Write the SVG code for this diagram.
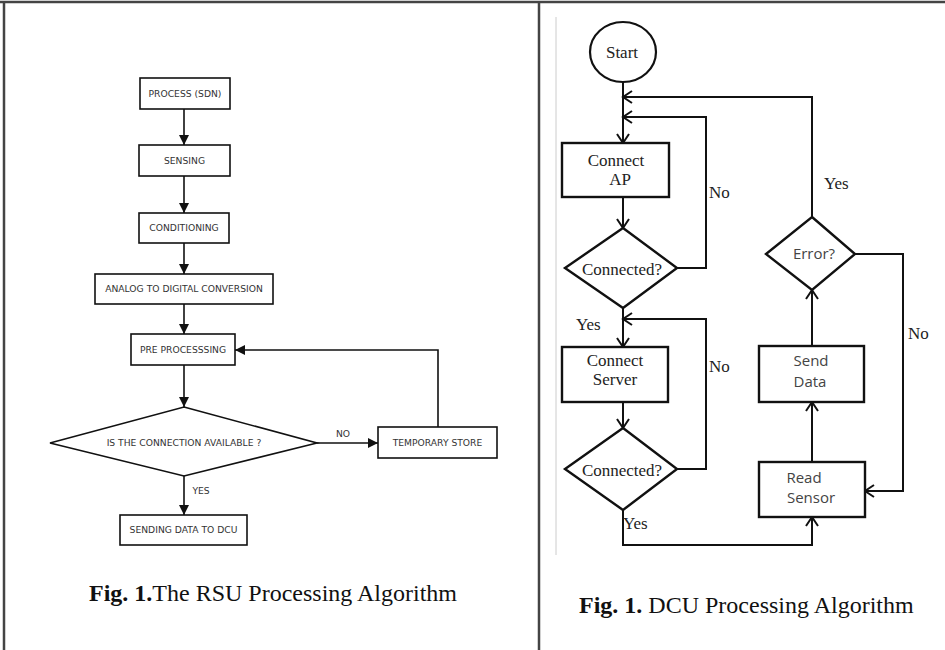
<svg xmlns="http://www.w3.org/2000/svg" width="945" height="650" viewBox="0 0 945 650">
<style>
.frame{stroke:#444;stroke-width:2.5;fill:none}
.lbox{fill:#fff;stroke:#111;stroke-width:1.6}
.ltxt{font-family:"DejaVu Sans",Verdana,sans-serif;font-size:9.2px;fill:#333;text-anchor:middle}
.lline{stroke:#111;stroke-width:1.6;fill:none}
.rbox{fill:#fff;stroke:#111;stroke-width:2.4}
.rline{stroke:#111;stroke-width:2;fill:none}
.serif{font-family:"Liberation Serif","Times New Roman",serif;font-size:17px;fill:#222}
.sans{font-family:"Open Sans","DejaVu Sans",sans-serif;font-size:15px;fill:#444}
.mid{text-anchor:middle}
.cap{font-family:"Liberation Serif","Times New Roman",serif;font-size:24px;fill:#111}
</style>
<defs>
<marker id="fa" markerUnits="userSpaceOnUse" markerWidth="10" markerHeight="10" viewBox="0 0 10 10" refX="10" refY="5" orient="auto">
<path d="M0,0 L10,5 L0,10 z" fill="#111"/>
</marker>
<marker id="oa" markerUnits="userSpaceOnUse" markerWidth="12" markerHeight="14" viewBox="0 0 12 14" refX="10" refY="7" orient="auto">
<path d="M1,1 L10,7 L1,13" fill="none" stroke="#111" stroke-width="2"/>
</marker>
</defs>
<rect width="945" height="650" fill="#fff"/>
<g id="frame">
<line class="frame" x1="0" y1="2" x2="945" y2="2"/>
<line class="frame" x1="4" y1="2" x2="4" y2="650"/>
<line class="frame" x1="539" y1="2" x2="539" y2="650"/>
<line x1="556" y1="17" x2="556" y2="555" stroke="#ccc" stroke-width="1"/>
</g>
<g id="connectors">
<path class="lline" d="M184,109 V145" marker-end="url(#fa)"/>
<path class="lline" d="M184,176 V213" marker-end="url(#fa)"/>
<path class="lline" d="M184,243 V274" marker-end="url(#fa)"/>
<path class="lline" d="M184,304 V334" marker-end="url(#fa)"/>
<path class="lline" d="M184,365 V407" marker-end="url(#fa)"/>
<path class="lline" d="M317,443 H378" marker-end="url(#fa)"/>
<path class="lline" d="M438,427 V350 H235" marker-end="url(#fa)"/>
<path class="lline" d="M184,476 V515" marker-end="url(#fa)"/>
<path class="rline" d="M623,82 V143" marker-end="url(#oa)"/>
<path class="rline" d="M623,197 V228" marker-end="url(#oa)"/>
<path class="rline" d="M677,268 H706 V117 H623" marker-end="url(#oa)"/>
<path class="rline" d="M812,217 V97 H623" marker-end="url(#oa)"/>
<path class="rline" d="M623,308 V347" marker-end="url(#oa)"/>
<path class="rline" d="M677,469 H706 V319 H623" marker-end="url(#oa)"/>
<path class="rline" d="M623,402 V428" marker-end="url(#oa)"/>
<path class="rline" d="M623,510 V545 H812 V517" marker-end="url(#oa)"/>
<path class="rline" d="M812,462 V402" marker-end="url(#oa)"/>
<path class="rline" d="M812,346 V290" marker-end="url(#oa)"/>
<path class="rline" d="M855,254 H903 V491 H865" marker-end="url(#oa)"/>
</g>
<g id="process">
<rect class="lbox" x="140" y="78" width="90" height="31"/>
<text class="ltxt" x="185" y="97">PROCESS (SDN)</text>
</g>
<g id="sensing">
<rect class="lbox" x="139" y="145" width="91" height="31"/>
<text class="ltxt" x="184.5" y="164">SENSING</text>
</g>
<g id="conditioning">
<rect class="lbox" x="139" y="213" width="90" height="30"/>
<text class="ltxt" x="184" y="231">CONDITIONING</text>
</g>
<g id="adc">
<rect class="lbox" x="95" y="274" width="178" height="30"/>
<text class="ltxt" x="184" y="292">ANALOG TO DIGITAL CONVERSION</text>
</g>
<g id="preprocessing">
<rect class="lbox" x="131" y="334" width="104" height="31"/>
<text class="ltxt" x="183" y="353">PRE PROCESSSING</text>
</g>
<g id="decision">
<polygon class="lbox" points="184,407 317,443 184,476 50,443"/>
<text class="ltxt" x="184" y="446">IS THE CONNECTION AVAILABLE ?</text>
</g>
<g id="temp-store">
<rect class="lbox" x="378" y="427" width="119" height="31"/>
<text class="ltxt" x="437.5" y="446">TEMPORARY STORE</text>
</g>
<g id="sending">
<rect class="lbox" x="120" y="515" width="127" height="30"/>
<text class="ltxt" x="183.5" y="533">SENDING DATA TO DCU</text>
</g>
<g id="left-labels">
<text class="ltxt" x="343" y="437">NO</text>
<text class="ltxt" x="201" y="494">YES</text>
</g>
<g id="start">
<ellipse cx="623" cy="52" rx="33" ry="30" fill="#fff" stroke="#111" stroke-width="2.2"/>
<text class="serif mid" x="622" y="58" font-size="18">Start</text>
</g>
<g id="connect-ap">
<rect class="rbox" x="562" y="143" width="107" height="54"/>
<text class="serif mid" x="616" y="166">Connect</text>
<text class="serif mid" x="620" y="185">AP</text>
</g>
<g id="connected-1">
<polygon class="rbox" points="623,228 677,268 623,308 565,268"/>
<text class="serif mid" x="622" y="275" font-size="18.5">Connected?</text>
</g>
<g id="connect-server">
<rect class="rbox" x="562" y="347" width="106" height="55"/>
<text class="serif mid" x="615" y="366">Connect</text>
<text class="serif mid" x="615" y="385">Server</text>
</g>
<g id="connected-2">
<polygon class="rbox" points="623,428 677,469 623,510 565,469"/>
<text class="serif mid" x="622" y="476" font-size="18.5">Connected?</text>
</g>
<g id="error">
<polygon class="rbox" points="812,217 855,254 812,290 766,254"/>
<text class="sans mid" x="814" y="259">Error?</text>
</g>
<g id="send-data">
<rect class="rbox" x="759" y="346" width="105" height="56"/>
<text class="sans mid" x="811" y="366">Send</text>
<text class="sans mid" x="810" y="387">Data</text>
</g>
<g id="read-sensor">
<rect class="rbox" x="759" y="462" width="106" height="55"/>
<text class="sans mid" x="804" y="483">Read</text>
<text class="sans mid" x="811" y="503">Sensor</text>
</g>
<g id="right-labels">
<text class="serif" x="709" y="198">No</text>
<text class="serif" x="576" y="330">Yes</text>
<text class="serif" x="709" y="372">No</text>
<text class="serif" x="623" y="529">Yes</text>
<text class="serif" x="824" y="189">Yes</text>
<text class="serif" x="908" y="339">No</text>
</g>
<g id="captions">
<text class="cap" x="89" y="601"><tspan font-weight="bold">Fig. 1.</tspan>The RSU Processing Algorithm</text>
<text class="cap" x="579" y="613"><tspan font-weight="bold">Fig. 1.</tspan> DCU Processing Algorithm</text>
</g>
</svg>
